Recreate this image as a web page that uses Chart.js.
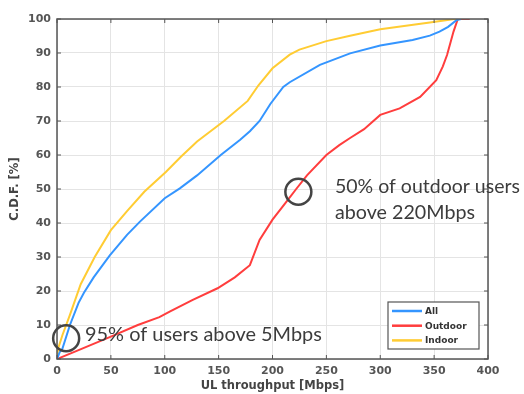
<!DOCTYPE html>
<html>
<head>
<meta charset="utf-8">
<script src="https://cdn.jsdelivr.net/npm/chart.js@4.4.0/dist/chart.umd.min.js"></script>
<style>
  html, body { margin: 0; padding: 0; background: #fff; }
  #wrap { width: 524px; height: 394px; }
</style>
</head>
<body>
<div id="wrap"><canvas id="cdf"></canvas></div>
<script>
// UL throughput (Mbps) -> C.D.F. (%)
const allX = [0, 2.5, 5, 12, 20, 25, 34, 49, 65, 77, 100, 114, 130, 152, 170, 179, 188, 198, 210, 216, 244, 272, 300, 330, 346, 355, 363, 371, 375];
const allY = [0, 2, 3, 10, 16.5, 19.5, 24, 30.5, 36.5, 40.4, 47.3, 50.2, 54, 60, 64.5, 67, 70, 75, 80, 81.4, 86.5, 89.9, 92.2, 93.8, 95.1, 96.3, 97.7, 99.7, 100];

const outX = [0, 20, 50, 75, 95, 105, 126, 149, 165, 179, 188, 200, 213, 222, 232, 250, 262, 272, 285, 300, 318, 337, 352, 358, 362, 368, 372, 383];
const outY = [0, 2.6, 6.6, 10, 12.3, 14, 17.4, 20.8, 24, 27.6, 35, 41, 46.3, 50, 54, 60, 62.9, 65, 67.6, 71.8, 73.7, 77.1, 82, 86, 89.4, 96.3, 100, 100];

const inX = [0, 1, 5, 12, 22, 35, 50, 65, 81, 101, 115, 130, 155, 177, 187, 200, 216, 225, 250, 272, 300, 346, 369, 375];
const inY = [0, 3, 7, 13, 22, 30, 37.9, 43.5, 49.2, 55, 59.5, 64, 70, 75.9, 80.5, 85.5, 89.5, 91, 93.5, 95.1, 97, 99, 100, 100];

const seriesNames = ['All', 'Outdoor', 'Indoor'];
const seriesColors = ['#3495ff', '#ff3d3d', '#ffcc33'];

const xTicks = [0, 50, 100, 150, 200, 250, 300, 350, 400];
const yTicks = [0, 10, 20, 30, 40, 50, 60, 70, 80, 90, 100];

// annotations: circle centre in data units + text lines
const notes = [
  { cx: 8.5, cy: 6.1, lines: ['95% of users above 5Mbps'], tx: 85, ty: 335, w: [237] },
  { cx: 224, cy: 49.2, lines: ['50% of outdoor users', 'above 220Mbps'], tx: 335, ty: 187, w: [185, 140] }
];

const toPts = (xs, ys) => xs.map((x, i) => ({ x: x, y: ys[i] }));
const seriesData = [toPts(allX, allY), toPts(outX, outY), toPts(inX, inY)];

const tickFont = { family: '"DejaVu Sans"', size: 11, weight: 'bold' };
const titleFont = { family: '"DejaVu Sans"', size: 11.5, weight: 'bold' };

const framePlugin = {
  id: 'frame',
  afterDatasetsDraw(chart) {
    const ctx = chart.ctx;
    const a = chart.chartArea;
    const xs = chart.scales.x, ys = chart.scales.y;
    ctx.save();

    // box + inward ticks
    ctx.strokeStyle = '#555';
    ctx.lineWidth = 1.5;
    ctx.strokeRect(a.left, a.top, a.right - a.left, a.bottom - a.top);
    ctx.lineWidth = 1;
    ctx.beginPath();
    xTicks.forEach(v => {
      const px = xs.getPixelForValue(v);
      ctx.moveTo(px, a.bottom); ctx.lineTo(px, a.bottom - 4);
      ctx.moveTo(px, a.top); ctx.lineTo(px, a.top + 4);
    });
    yTicks.forEach(v => {
      const py = ys.getPixelForValue(v);
      ctx.moveTo(a.left, py); ctx.lineTo(a.left + 4, py);
      ctx.moveTo(a.right, py); ctx.lineTo(a.right - 4, py);
    });
    ctx.stroke();

    // circles and texts
    notes.forEach(n => {
      ctx.strokeStyle = '#444';
      ctx.lineWidth = 2.5;
      ctx.beginPath();
      ctx.arc(xs.getPixelForValue(n.cx), ys.getPixelForValue(n.cy), 13, 0, Math.PI * 2);
      ctx.stroke();
      ctx.fillStyle = '#3c3c3c';
      ctx.textBaseline = 'middle';
      ctx.textAlign = 'left';
      n.lines.forEach((s, i) => {
        ctx.font = '17px Lato';
        const m = ctx.measureText(s).width;
        const size = 17 * n.w[i] / m;
        ctx.font = size.toFixed(2) + 'px Lato';
        ctx.fillText(s, n.tx, n.ty + i * 26);
      });
    });

    // legend
    const lx = 388, ly = 302, lw = 91, lh = 47;
    ctx.fillStyle = '#fff';
    ctx.fillRect(lx, ly, lw, lh);
    ctx.strokeStyle = '#555';
    ctx.lineWidth = 1.2;
    ctx.strokeRect(lx, ly, lw, lh);
    ctx.font = 'bold 9px "DejaVu Sans"';
    chart.data.datasets.forEach((d, i) => {
      const y = ly + 9 + i * 14.7;
      ctx.strokeStyle = d.borderColor;
      ctx.lineWidth = 2.5;
      ctx.beginPath();
      ctx.moveTo(lx + 4, y); ctx.lineTo(lx + 34, y);
      ctx.stroke();
      ctx.fillStyle = '#333';
      ctx.fillText(d.label, lx + 37, y + 0.5);
    });
    ctx.restore();
  }
};

new Chart(document.getElementById('cdf'), {
  type: 'line',
  data: {
    datasets: seriesNames.map((name, i) => ({
      label: name,
      data: seriesData[i],
      borderColor: seriesColors[i],
      backgroundColor: seriesColors[i],
      borderWidth: 2,
      pointRadius: 0,
      tension: 0,
      fill: false
    }))
  },
  options: {
    responsive: true,
    maintainAspectRatio: false,
    animation: false,
    layout: { padding: { left: 0, right: 36, top: 19, bottom: 0 } },
    plugins: { legend: { display: false }, tooltip: { enabled: false } },
    scales: {
      x: {
        type: 'linear', min: 0, max: 400,
        afterBuildTicks: s => { s.ticks = xTicks.map(v => ({ value: v })); },
        afterFit: s => { s.height = 35; },
        grid: { color: '#e4e4e4', drawTicks: false },
        border: { display: false },
        ticks: { font: tickFont, color: '#555', padding: 6, maxRotation: 0 },
        title: { display: true, text: 'UL throughput [Mbps]', font: titleFont, color: '#444', padding: { top: 0, bottom: 1 } }
      },
      y: {
        min: 0, max: 100,
        afterBuildTicks: s => { s.ticks = yTicks.map(v => ({ value: v })); },
        afterFit: s => { s.width = 57; },
        grid: { color: '#e4e4e4', drawTicks: false },
        border: { display: false },
        ticks: { font: tickFont, color: '#555', padding: 6 },
        title: { display: true, text: 'C.D.F. [%]', font: titleFont, color: '#444', padding: { top: 8, bottom: 0 } }
      }
    }
  },
  plugins: [framePlugin]
});
</script>
</body>
</html>
